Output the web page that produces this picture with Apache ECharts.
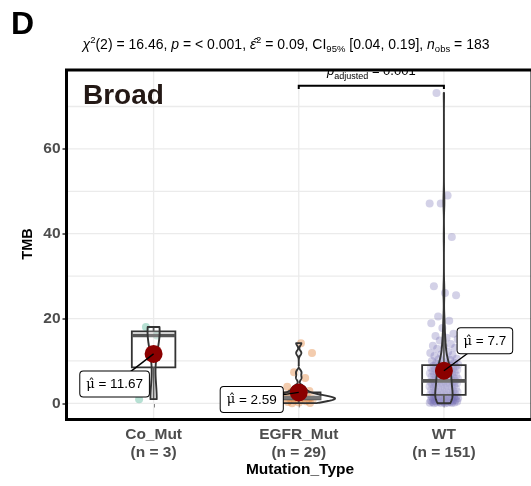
<!DOCTYPE html>
<html><head><meta charset="utf-8">
<script src="https://cdn.jsdelivr.net/npm/echarts@6/dist/echarts.min.js"></script>
<style>html,body{margin:0;padding:0;background:#fff}#c{width:531px;height:486px}</style>
</head><body><div id="c"></div>
<script>
// ---------------- data ----------------
const categories = ['Co_Mut', 'EGFR_Mut', 'WT'];
const groupCounts = ['n = 3', 'n = 29', 'n = 151'];
const coMutValues = [1.0, 16.0, 18.0];
const egfrMutValues = [0.05, 0.1, 0.2, 0.3, 0.5, 0.7, 0.85, 0.95, 1.0, 1.05, 1.1, 1.15, 1.2, 1.3, 1.4,
  1.5, 1.6, 1.7, 1.8, 2.0, 2.2, 2.6, 2.9, 3.6, 3.9, 6.0, 7.35, 11.9, 14.2];
const wtValues = [
  0.02, 0.05, 0.08, 0.1, 0.12, 0.15, 0.18, 0.2, 0.25, 0.3, 0.35, 0.4, 0.45, 0.5, 0.55, 0.6, 0.65, 0.7, 0.75,
  0.8, 0.85, 0.9, 0.95, 1.0, 1.1, 1.2, 1.3, 1.4, 1.45, 1.5, 1.55, 1.6, 1.65, 1.7, 1.75, 1.8, 1.9, 1.95,
  2.05, 2.1, 2.2, 2.3, 2.4, 2.5, 2.55, 2.6, 2.7, 2.8, 2.9, 3.0, 3.1, 3.2, 3.3, 3.4, 3.5, 3.6, 3.7, 3.8, 3.9,
  4.0, 4.1, 4.2, 4.3, 4.4, 4.5, 4.6, 4.7, 4.75, 4.8, 4.85, 4.9, 5.0, 5.05, 5.1, 5.2,
  5.3,
  5.4, 5.5, 5.6, 5.7, 5.8, 5.9, 6.0, 6.1, 6.2, 6.3, 6.4, 6.5, 6.6, 6.7, 6.8, 6.9, 7.0, 7.1, 7.2, 7.3, 7.4,
  7.5, 7.6, 7.7, 7.8, 7.9, 8.0, 8.1, 8.2, 8.3, 8.4, 8.5, 8.6, 8.7, 8.8, 8.9, 8.95,
  9.05, 9.1, 9.2, 9.4, 9.6, 9.8, 10.0, 10.3, 10.4, 10.5, 10.6, 11.2, 11.4, 11.6, 11.9, 12.2,
  12.9, 13.1, 13.3, 13.6, 14.0, 14.8, 15.1, 15.5, 15.9, 16.4, 17.8, 18.9, 19.5, 20.5,
  25.5, 26.0, 27.6, 39.2, 47.1, 47.1, 49.0, 73.2
];
const meanLabels = ['11.67', '2.59', '7.7'];
const yTickValues = [0, 20, 40, 60];
const yGridValues = [0, 10, 20, 30, 40, 50, 60, 70];
const bracketGroups = [2, 3];
const bracketY = 74.9;
const bracketLabel = '0.001';
const subtitleText = '{it|χ}{sup|2}(2) = 16.46, {it|p} = < 0.001, {it|ε̂}{sup|2} = 0.09, CI{sub|95%} [0.04, 0.19], {it|n}{sub|obs} = 183';

// ---------------- styling ----------------
const X_MIN = 0.4, X_MAX = 3.6, Y_MIN = -3.8, Y_MAX = 78.6;
const FONT = "'Liberation Sans', Arial, Helvetica, sans-serif";
const pointColors = ['rgba(27,158,119,0.4)', 'rgba(217,95,2,0.4)', 'rgba(117,112,179,0.4)'];
const meanLabelOffsets = [[-39, 30], [-47, 7], [41, -30]];
const grid = {left: 66.5, right: -1, top: 70, bottom: 66.5};

// ---------------- statistics ----------------
const groups = [coMutValues, egfrMutValues, wtValues];
function q7(s, p) { const h = (s.length - 1) * p, lo = Math.floor(h), hi = Math.ceil(h); return s[lo] + (h - lo) * (s[hi] - s[lo]); }
const stats = groups.map(vals => {
  const s = vals.slice().sort((a, b) => a - b);
  const n = s.length;
  const q1 = q7(s, 0.25), med = q7(s, 0.5), q3 = q7(s, 0.75), iqr = q3 - q1;
  const wlo = s.find(v => v >= q1 - 1.5 * iqr);
  const whi = s.slice().reverse().find(v => v <= q3 + 1.5 * iqr);
  const mean = s.reduce((a, b) => a + b, 0) / n;
  const sd = Math.sqrt(s.reduce((a, v) => a + (v - mean) * (v - mean), 0) / (n - 1));
  let lo = Math.min(sd, iqr / 1.34); if (!(lo > 0)) lo = sd || 1;
  const bw = 0.9 * lo * Math.pow(n, -0.2);
  const dens = [];
  const K = 256;
  for (let k = 0; k < K; k++) {
    const y = s[0] + (s[n - 1] - s[0]) * k / (K - 1);
    let d = 0;
    for (const v of s) { const z = (y - v) / bw; d += Math.exp(-0.5 * z * z); }
    dens.push([y, d / (n * bw * Math.sqrt(2 * Math.PI))]);
  }
  return {q1, med, q3, wlo, whi, mean, dens, peak: Math.max(...dens.map(d => d[1]))};
});
const maxDens = Math.max(...stats.map(st => st.peak));

// ---------------- chart ----------------
const chart = echarts.init(document.getElementById('c'));
const scatterSeries = groups.map((vals, g) => ({
  type: 'scatter', z: 2, symbolSize: 8, silent: true,
  itemStyle: {color: pointColors[g], borderWidth: 0},
  data: vals.map((v, i) => [g + 1 + (((i * 0.6180339887 + g * 0.27) % 1) - 0.5) * 0.2, v])
}));

const option = {
  animation: false,
  grid: grid,
  xAxis: {
    type: 'value', min: X_MIN, max: X_MAX,
    axisLine: {show: false}, splitLine: {show: false},
    axisTick: {show: true, customValues: [1, 2, 3], length: 4, lineStyle: {color: '#333', width: 1.5}},
    axisLabel: {customValues: [1, 2, 3], margin: 6, color: '#4d4d4d', fontWeight: 'bold', fontSize: 15.5, fontFamily: FONT, lineHeight: 18,
      formatter: v => categories[Math.round(v) - 1] + '\n(' + groupCounts[Math.round(v) - 1] + ')'}
  },
  yAxis: {
    type: 'value', min: Y_MIN, max: Y_MAX,
    axisLine: {show: false}, splitLine: {show: false},
    axisTick: {show: true, customValues: yTickValues, length: 4, lineStyle: {color: '#333', width: 1.5}},
    axisLabel: {customValues: yTickValues, margin: 6, color: '#4d4d4d', fontWeight: 'bold', fontSize: 15.5, fontFamily: FONT}
  },
  graphic: [
    {type: 'text', x: 11, y: 25, z: 10, style: {text: 'D', font: 'bold 32px ' + FONT, fill: '#000', verticalAlign: 'middle'}},
    {type: 'text', x: 286, y: 45, z: 10, style: {text: subtitleText, font: '14px ' + FONT, fill: '#000', align: 'center', verticalAlign: 'middle', lineHeight: 19,
      rich: {it: {fontStyle: 'italic', fontSize: 14, fontFamily: FONT, lineHeight: 19},
             sup: {fontSize: 9.5, fontFamily: FONT, verticalAlign: 'top', lineHeight: 8},
             sub: {fontSize: 9.5, fontFamily: FONT, verticalAlign: 'bottom', lineHeight: 8}}}},
    {type: 'text', x: 83, y: 96, z: 10, style: {text: 'Broad', font: 'bold 28px ' + FONT, fill: '#231815', verticalAlign: 'middle'}},
    {type: 'text', x: 300, y: 470, z: 10, style: {text: 'Mutation_Type', font: 'bold 15.5px ' + FONT, fill: '#000', align: 'center', verticalAlign: 'middle'}},
    {type: 'text', x: 28, y: 244, rotation: Math.PI / 2, z: 10, style: {text: 'TMB', font: 'bold 14.5px ' + FONT, fill: '#000', align: 'center', verticalAlign: 'middle'}},
    {type: 'rect', z: 100, shape: {x: grid.left, y: grid.top, width: 531 - grid.right - grid.left, height: 486 - grid.bottom - grid.top},
      style: {fill: 'none', stroke: '#000', lineWidth: 3}}
  ],
  series: [
    {type: 'custom', z: 1, silent: true, data: [[1, 0]],
      renderItem: (params, api) => {
        const ch = [];
        yGridValues.forEach(v => {
          const a = api.coord([X_MIN, v]), b = api.coord([X_MAX, v]);
          ch.push({type: 'line', shape: {x1: a[0], y1: a[1], x2: b[0], y2: b[1]}, style: {stroke: '#ebebeb', lineWidth: 1.3}});
        });
        [1, 2, 3].forEach(c => {
          const a = api.coord([c, Y_MIN]), b = api.coord([c, Y_MAX]);
          ch.push({type: 'line', shape: {x1: a[0], y1: a[1], x2: b[0], y2: b[1]}, style: {stroke: '#ebebeb', lineWidth: 1.3}});
        });
        return {type: 'group', children: ch};
      }},
    ...scatterSeries,
    {type: 'custom', z: 3, silent: true,
      data: stats.map((st, g) => [g + 1, st.wlo, st.q1, st.med, st.q3, st.whi]),
      renderItem: (params, api) => {
        const x = api.value(0), hw = 0.15;
        const tl = api.coord([x - hw, api.value(4)]), br = api.coord([x + hw, api.value(2)]);
        const m1 = api.coord([x - hw, api.value(3)]), m2 = api.coord([x + hw, api.value(3)]);
        const w1 = api.coord([x, api.value(1)]), w2 = api.coord([x, api.value(5)]);
        const st = {stroke: '#333', lineWidth: 1.8};
        return {type: 'group', children: [
          {type: 'line', shape: {x1: w2[0], y1: w2[1], x2: w2[0], y2: tl[1]}, style: st},
          {type: 'line', shape: {x1: w1[0], y1: br[1], x2: w1[0], y2: w1[1]}, style: st},
          {type: 'rect', shape: {x: tl[0], y: tl[1], width: br[0] - tl[0], height: br[1] - tl[1]}, style: {fill: 'rgba(255,255,255,0.2)', stroke: '#333', lineWidth: 1.8}},
          {type: 'line', shape: {x1: m1[0], y1: m1[1], x2: m2[0], y2: m2[1]}, style: {stroke: '#555', lineWidth: 3.6}}
        ]};
      }},
    {type: 'custom', z: 4, silent: true,
      data: stats.map((st, g) => [g + 1, st.med]),
      renderItem: (params, api) => {
        const g = params.dataIndex, x = api.value(0), st = stats[g];
        const right = [], left = [];
        st.dens.forEach(([y, d]) => {
          const w = d / maxDens * 0.25;
          right.push(api.coord([x + w, y]));
          left.push(api.coord([x - w, y]));
        });
        const pts = right.concat(left.reverse());
        return {type: 'polygon', shape: {points: pts}, style: {fill: 'rgba(255,255,255,0.2)', stroke: '#333', lineWidth: 1.9, lineJoin: 'round'}};
      }},
    {type: 'custom', z: 5, silent: true,
      data: stats.map((st, g) => [g + 1, st.mean]),
      renderItem: (params, api) => {
        const i = params.dataIndex;
        const p = api.coord([api.value(0), api.value(1)]);
        const off = meanLabelOffsets[i];
        const lx = p[0] + off[0], ly = p[1] + off[1];
        return {type: 'group', children: [
          {type: 'circle', shape: {cx: p[0], cy: p[1], r: 9}, style: {fill: '#8B0000'}},
          {type: 'line', shape: {x1: lx, y1: ly, x2: p[0], y2: p[1]}, style: {stroke: '#000', lineWidth: 1.4}},
          {type: 'text', x: lx, y: ly, style: {text: '{mu|μ̂} = ' + meanLabels[i], font: '13.5px ' + FONT, fill: '#000', align: 'center', verticalAlign: 'middle',
            rich: {mu: {fontFamily: "'DejaVu Serif', serif", fontSize: 13}},
            backgroundColor: '#fff', borderColor: '#000', borderWidth: 1, borderRadius: 3, padding: [6, 6, 5, 6]}}
        ]};
      }},
    {type: 'custom', z: 6, silent: true, clip: true,
      data: [[bracketGroups[0], bracketY, bracketGroups[1]]],
      renderItem: (params, api) => {
        const y = api.value(1);
        const a0 = api.coord([api.value(0), y - 0.8]), a1 = api.coord([api.value(0), y]);
        const b1 = api.coord([api.value(2), y]), b0 = api.coord([api.value(2), y - 0.8]);
        return {type: 'group', children: [
          {type: 'polyline', shape: {points: [a0, a1, b1, b0]}, style: {stroke: '#000', lineWidth: 2, fill: null}},
          {type: 'text', x: (a1[0] + b1[0]) / 2, y: a1[1] - 14, style: {
            text: '{it|p}{sub|adjusted} = ' + bracketLabel, font: '13px ' + FONT, fill: '#000', align: 'center', verticalAlign: 'middle', lineHeight: 18,
            rich: {it: {fontStyle: 'italic', fontSize: 13, fontFamily: FONT, lineHeight: 18}, sub: {fontSize: 9, fontFamily: FONT, verticalAlign: 'bottom', lineHeight: 8}}}}
        ]};
      }}
  ]
};
chart.setOption(option);
</script></body></html>
